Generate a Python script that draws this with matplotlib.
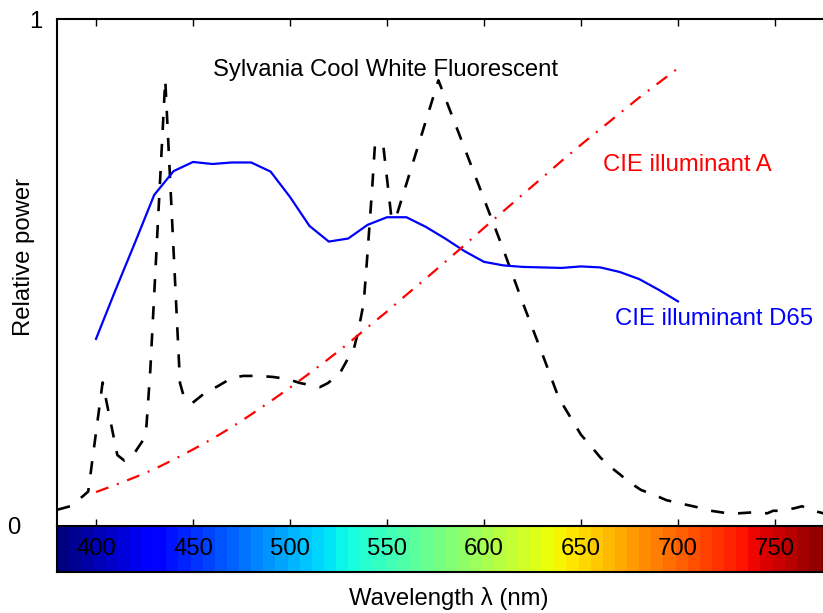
import numpy as np
import matplotlib
matplotlib.use("Agg")
import matplotlib.pyplot as plt
import matplotlib.transforms as mtransforms

plt.rcParams['font.family'] = ['Liberation Sans', 'DejaVu Sans']
plt.rcParams['font.size'] = 17.2
plt.rcParams['lines.scale_dashes'] = False

# ---- data ----
wl_d65 = [400, 410, 420, 430, 440, 450, 460, 470, 480, 490, 500, 510, 520, 530, 540,
          550, 560, 570, 580, 590, 600, 610, 620, 630, 640, 650, 660, 670, 680, 690, 700]
d65 = [0.369, 0.465, 0.558, 0.653, 0.700, 0.718, 0.714, 0.717, 0.717, 0.699, 0.649,
       0.592, 0.561, 0.567, 0.594, 0.609, 0.609, 0.590, 0.567, 0.542, 0.521, 0.514,
       0.511, 0.510, 0.509, 0.512, 0.510, 0.501, 0.487, 0.466, 0.443]

wl_a = wl_d65
illum_a = [0.067, 0.081, 0.096, 0.112, 0.131, 0.151, 0.172, 0.195, 0.220, 0.246, 0.273,
           0.301, 0.330, 0.360, 0.392, 0.423, 0.456, 0.488, 0.521, 0.554, 0.588, 0.621,
           0.654, 0.687, 0.720, 0.752, 0.783, 0.814, 0.845, 0.874, 0.903]

wl_f = [380, 386.7, 393, 396, 403.4, 411, 414.6, 420, 424.4, 426, 428, 435.7, 443.3,
        445.5, 449.8, 456, 462.9, 470, 475.8, 484, 491.2, 498.5, 505.2, 515.5, 519.6,
        525.8, 529.4, 533, 535, 538, 539.7, 542.3, 543.8, 548, 552.4, 555, 576.5, 590,
        600, 610, 620, 630, 637.6, 641, 645.4, 650, 655, 660, 665, 670, 675, 681, 688,
        694, 703, 710, 717, 724, 731, 739, 746, 749, 753, 760, 764, 767, 775, 780]
fluor = [0.032, 0.039, 0.058, 0.068, 0.283, 0.140, 0.129, 0.145, 0.170, 0.197, 0.308,
         0.880, 0.282, 0.252, 0.243, 0.262, 0.276, 0.292, 0.296, 0.296, 0.294, 0.290,
         0.282, 0.274, 0.282, 0.302, 0.327, 0.351, 0.381, 0.440, 0.525, 0.663, 0.753,
         0.753, 0.604, 0.613, 0.879, 0.745, 0.645, 0.545, 0.440, 0.340, 0.262, 0.237,
         0.209, 0.180, 0.158, 0.135, 0.117, 0.102, 0.086, 0.071, 0.061, 0.051, 0.043,
         0.037, 0.030, 0.026, 0.025, 0.027, 0.025, 0.030, 0.030, 0.035, 0.039, 0.033,
         0.025, 0.025]

x_ticks = [400, 450, 500, 550, 600, 650, 700, 750]
wl_range = (380, 780)
n_colors = 64

# ---- figure ----
W, H = 823, 613
fig = plt.figure(figsize=(W / 100, H / 100), dpi=100)

left = 57.2 / W
width = 776 / W
ax = fig.add_axes([left, (H - 526) / H, width, (526 - 19) / H])
cax = fig.add_axes([left, (H - 572) / H, width, 46 / H])

ax.plot(wl_f, fluor, color='black', lw=1.9, dashes=(9.5, 10))
ax.plot(wl_d65, d65, color='#0000ff', lw=1.6)
ax.plot(wl_a, illum_a, color='#ff0000', lw=1.6, dashes=(9.5, 6.5, 1.4, 6.5))

ax.set_xlim(*wl_range)
ax.set_ylim(0, 1)
ax.set_xticks(x_ticks)
ax.tick_params(axis='x', direction='in', length=5, width=1, top=True, bottom=True,
               labelbottom=False)
ax.set_yticks([0, 1])
ax.set_yticklabels(['0', '1'])
ax.tick_params(axis='y', length=0, pad=11)
for s in ['left', 'top']:
    ax.spines[s].set_linewidth(1.5)
ax.spines['right'].set_visible(False)
ax.spines['bottom'].set_visible(False)

# shift the "0" label further left as in the reference
lab0 = ax.get_yticklabels()[0]
lab0.set_transform(lab0.get_transform() + mtransforms.ScaledTranslation(-22 / 100, 0, fig.dpi_scale_trans))

ax.text(549, 0.899, 'Sylvania Cool White Fluorescent', ha='center', va='center', color='black')
ax.text(661.2, 0.713, 'CIE illuminant A', ha='left', va='center', color='#ff0000')
ax.text(667.5, 0.409, 'CIE illuminant D65', ha='left', va='center', color='#0000ff')

# ---- spectrum colour bar ----
edges = np.linspace(wl_range[0], wl_range[1], n_colors + 1)
cmap = plt.get_cmap('jet', n_colors)
cax.pcolormesh(edges, [0, 1], np.arange(n_colors)[None, :], cmap=cmap,
               vmin=-0.5, vmax=n_colors - 0.5, shading='flat')
cax.set_xlim(*wl_range)
cax.set_ylim(0, 1)
cax.set_xticks([])
cax.set_yticks([])
for s in cax.spines.values():
    s.set_linewidth(1.5)
trans = mtransforms.blended_transform_factory(cax.transData, cax.transAxes)
for t in x_ticks:
    cax.text(t, 0.5, str(t), transform=trans, ha='center', va='center', color='black')

fig.text(24 / W, 1 - 256.5 / H, 'Relative power', rotation=90, ha='center', va='center')
fig.text(449 / W, 1 - 598 / H, 'Wavelength λ (nm)', ha='center', va='center')

fig.savefig('out.png', dpi=100)
